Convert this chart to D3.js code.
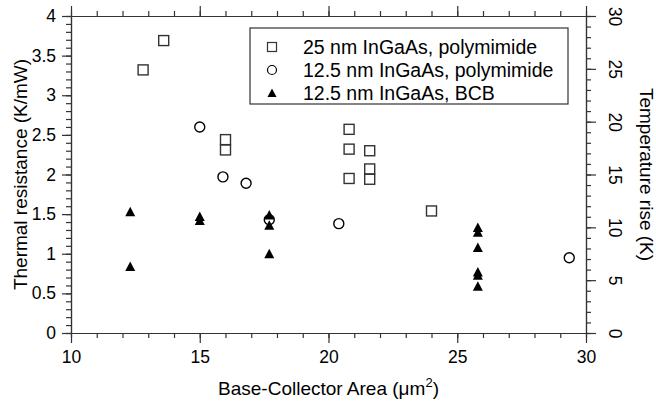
<!DOCTYPE html>
<html>
<head>
<meta charset="utf-8">
<style>
  body { margin: 0; background: #fff; }
  svg { display: block; font-family: "Liberation Sans", Arial, sans-serif; }
</style>
</head>
<body>
<div id="chart"></div>
<script src="https://cdn.jsdelivr.net/npm/d3@7"></script>
<script>
// 25 nm InGaAs, polymimide (squares)
const sqArea = [12.8, 13.6, 16.0, 16.0, 20.8, 20.8, 20.8, 21.6, 21.6, 21.6, 24.0];
const sqRth  = [3.32, 3.69, 2.44, 2.31, 2.57, 2.32, 1.95, 2.30, 2.07, 1.94, 1.54];
// 12.5 nm InGaAs, polymimide (circles)
const ciArea = [15.0, 15.9, 16.8, 17.7, 20.4, 29.35];
const ciRth  = [2.60, 1.97, 1.89, 1.43, 1.38, 0.95];
// 12.5 nm InGaAs, BCB (triangles)
const trArea = [12.3, 12.3, 15.0, 15.0, 17.7, 17.7, 17.7, 25.8, 25.8, 25.8, 25.8, 25.8, 25.8];
const trRth  = [1.53, 0.84, 1.47, 1.42, 1.49, 1.36, 1.00, 1.33, 1.27, 1.08, 0.77, 0.73, 0.59];

const legendLabels = ["25 nm InGaAs, polymimide", "12.5 nm InGaAs, polymimide", "12.5 nm InGaAs, BCB"];
const xTicks = [10, 15, 20, 25, 30];
const yTicks = [0, 0.5, 1, 1.5, 2, 2.5, 3, 3.5, 4];
const y2Ticks = [0, 5, 10, 15, 20, 25, 30];

const W = 656, H = 402;
const m = { left: 71, right: 656 - 586, top: 16, bottom: 402 - 333 };

const svg = d3.select("#chart").append("svg")
  .attr("width", W).attr("height", H);

const x = d3.scaleLinear().domain([10, 30]).range([m.left, W - m.right]);
const y = d3.scaleLinear().domain([0, 4]).range([H - m.bottom, m.top]);
const y2 = d3.scaleLinear().domain([0, 30]).range([H - m.bottom, m.top]);

const axisColor = "#333";
const fs = 17.5;     // tick labels
const fsTitle = 19;  // axis titles
const fsLeg = 19.5;  // legend

function styleAxis(g) {
  g.selectAll("path, line").attr("stroke", axisColor).attr("stroke-width", 1.2);
  g.selectAll("text").attr("font-size", fs).attr("fill", "#000")
    .attr("font-family", "Liberation Sans, Arial, sans-serif");
}

// minor ticks
const minorX = d3.range(10, 30.01, 1);
const minorY = d3.range(0, 4.001, 0.1);
const minorY2 = d3.range(0, 30.01, 1);

svg.append("g").attr("transform", `translate(0,${y(0)})`)
  .call(d3.axisBottom(x).tickValues(minorX).tickSize(5).tickFormat("").tickSizeOuter(0)).call(styleAxis);
svg.append("g").attr("transform", `translate(0,${y(4)})`)
  .call(d3.axisTop(x).tickValues(minorX).tickSize(5).tickFormat("").tickSizeOuter(0)).call(styleAxis);
svg.append("g").attr("transform", `translate(${x(10)},0)`)
  .call(d3.axisLeft(y).tickValues(minorY).tickSize(5).tickFormat("").tickSizeOuter(0)).call(styleAxis);
svg.append("g").attr("transform", `translate(${x(30)},0)`)
  .call(d3.axisRight(y2).tickValues(minorY2).tickSize(5).tickFormat("").tickSizeOuter(0)).call(styleAxis);

// major ticks
svg.append("g").attr("transform", `translate(0,${y(0)})`)
  .call(d3.axisBottom(x).tickValues(xTicks).tickSize(10).tickPadding(8).tickSizeOuter(0)).call(styleAxis);
svg.append("g").attr("transform", `translate(0,${y(4)})`)
  .call(d3.axisTop(x).tickValues(xTicks).tickSize(10).tickFormat("").tickSizeOuter(0)).call(styleAxis);
svg.append("g").attr("transform", `translate(${x(10)},0)`)
  .call(d3.axisLeft(y).tickValues(yTicks).tickSize(9).tickPadding(6).tickFormat(d => d).tickSizeOuter(0)).call(styleAxis);
const right = svg.append("g").attr("transform", `translate(${x(30)},0)`)
  .call(d3.axisRight(y2).tickValues(y2Ticks).tickSize(10).tickSizeOuter(0)).call(styleAxis);
right.selectAll(".tick text")
  .attr("x", 0).attr("dy", null)
  .attr("transform", "translate(29,0) rotate(90)")
  .attr("text-anchor", "middle").attr("dominant-baseline", "central");

// axis titles
svg.append("text")
  .attr("transform", `translate(20,${(y(0) + y(4)) / 2}) rotate(-90)`)
  .attr("text-anchor", "middle").attr("dominant-baseline", "central")
  .attr("font-size", fsTitle).text("Thermal resistance (K/mW)");
svg.append("text")
  .attr("transform", `translate(646,${(y(0) + y(4)) / 2}) rotate(90)`)
  .attr("text-anchor", "middle").attr("dominant-baseline", "central")
  .attr("font-size", fsTitle).text("Temperature rise (K)");
const xt = svg.append("text")
  .attr("x", (x(10) + x(30)) / 2).attr("y", 395)
  .attr("text-anchor", "middle").attr("font-size", fsTitle);
xt.append("tspan").text("Base-Collector Area (");
xt.append("tspan").text("\u03bcm");
xt.append("tspan").attr("dy", -8).attr("font-size", 13).text("2");
xt.append("tspan").attr("dy", 8).text(")");

// markers
const triPath = "M0,-5L5,4.5L-5,4.5Z";
const squares = sqArea.map((a, i) => [a, sqRth[i]]);
const circles = ciArea.map((a, i) => [a, ciRth[i]]);
const tris = trArea.map((a, i) => [a, trRth[i]]);

svg.append("g").selectAll("rect").data(squares).join("rect")
  .attr("x", d => x(d[0]) - 5).attr("y", d => y(d[1]) - 5)
  .attr("width", 10).attr("height", 10)
  .attr("fill", "none").attr("stroke", "#333").attr("stroke-width", 1.4);
svg.append("g").selectAll("circle").data(circles).join("circle")
  .attr("cx", d => x(d[0])).attr("cy", d => y(d[1])).attr("r", 5)
  .attr("fill", "none").attr("stroke", "#000").attr("stroke-width", 1.4);
svg.append("g").selectAll("path").data(tris).join("path")
  .attr("transform", d => `translate(${x(d[0])},${y(d[1])})`)
  .attr("d", triPath).attr("fill", "#000");

// legend
const lg = svg.append("g");
lg.append("rect").attr("x", 250).attr("y", 28).attr("width", 318).attr("height", 76)
  .attr("fill", "#fff").attr("stroke", "#333").attr("stroke-width", 1.2);
legendLabels.forEach((t, i) => {
  const cy = 47 + i * 23;
  if (i === 0) lg.append("rect").attr("x", 267.5).attr("y", cy - 4.5).attr("width", 9).attr("height", 9)
    .attr("fill", "none").attr("stroke", "#333").attr("stroke-width", 1.2);
  if (i === 1) lg.append("circle").attr("cx", 272).attr("cy", cy).attr("r", 4.5)
    .attr("fill", "none").attr("stroke", "#000").attr("stroke-width", 1.2);
  if (i === 2) lg.append("path").attr("transform", `translate(272,${cy})`)
    .attr("d", "M0,-4.5L4.5,4L-4.5,4Z").attr("fill", "#000");
  lg.append("text").attr("x", 303).attr("y", cy).attr("dominant-baseline", "central")
    .attr("font-size", fsLeg).text(t);
});
</script>
</body>
</html>
